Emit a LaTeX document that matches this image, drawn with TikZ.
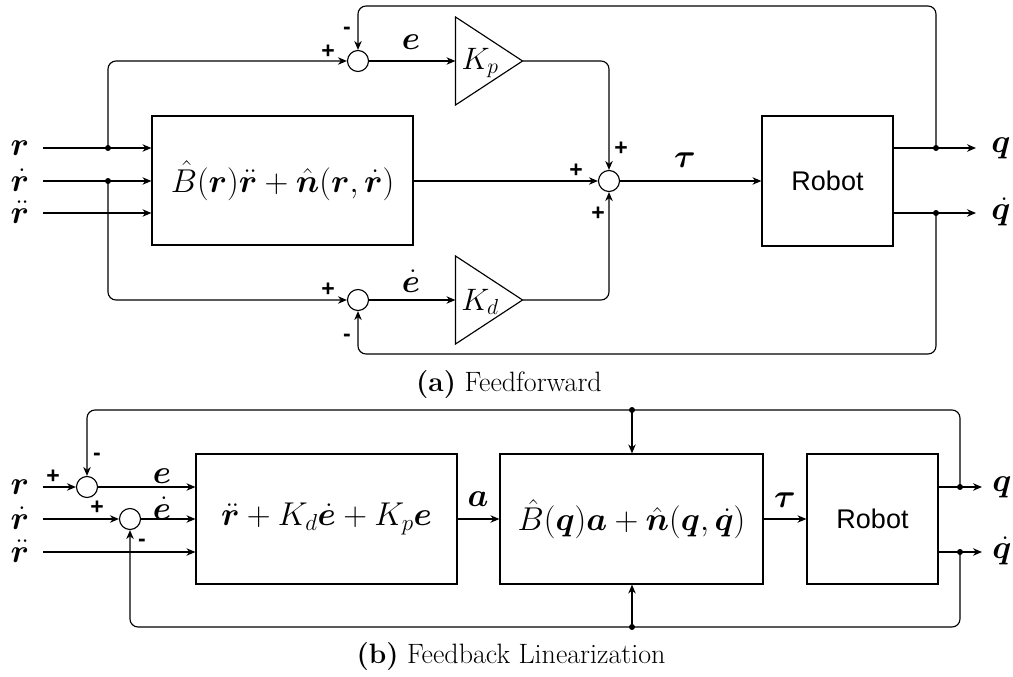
\documentclass[tikz,border=0pt]{standalone}
\usepackage{fix-cm}
\usepackage{amsmath}
\usepackage{bm}
\usepackage{fontspec}
\newfontfamily\sansf{Liberation Sans}
\usetikzlibrary{arrows.meta}
\begin{document}
\begin{tikzpicture}[x=1pt,y=-1pt,
  line width=1.15pt,
  arr/.style={-{Stealth[length=9pt,width=7.5pt]}},
  blk/.style={draw,inner sep=0pt},
  bigmath/.style={font=\fontsize{33}{35}\selectfont},
  robotxt/.style={font=\sansf\fontsize{27}{29}\selectfont},
  sumc/.style={draw,circle,minimum size=21pt,inner sep=0pt},
  tribox/.style={inner sep=0pt,minimum width=66pt,minimum height=87pt},
  dot/.style={circle,fill,inner sep=0pt,minimum size=6pt},
  sgn/.style={font=\sansf\bfseries\fontsize{23}{23}\selectfont},
  lbl/.style={font=\fontsize{33}{35}\selectfont},
  klbl/.style={font=\fontsize{31}{33}\selectfont},
  captxt/.style={font=\fontsize{28}{30}\selectfont},
  rc/.style={rounded corners=8pt}]
\useasboundingbox (0,0) rectangle (1013,677);

% ================= (a) Feedforward =================
\node[blk,bigmath,minimum width=261pt,minimum height=129pt] (ff) at (282.5,180.5)
  {$\hat{B}(\bm r)\ddot{\bm r}+\hat{\bm n}(\bm r,\dot{\bm r})$};
\node[blk,robotxt,minimum width=131pt,minimum height=130pt] (roba) at (827.5,181) {Robot};
\node[sumc] (s1) at (358,61) {};
\node[sumc] (s2) at (358,300) {};
\node[sumc] (s3) at (609,181) {};
\node[tribox] (kp) at (489,61) {};
\node[tribox] (kd) at (489,300) {};
\draw (kp.north west) -- (kp.east) -- (kp.south west) -- cycle;
\draw (kd.north west) -- (kd.east) -- (kd.south west) -- cycle;
\node[klbl] (kpl) at (480,63) {$K_p$};
\node[klbl] (kdl) at (480,302) {$K_d$};

\coordinate (ia1) at (43,148);
\coordinate (ia2) at (43,181);
\coordinate (ia3) at (43,213);
\node[lbl] (lra1) at (20,148) {$\bm r$};
\node[lbl] (lra2) at (20,180) {$\dot{\bm r}$};
\node[lbl] (lra3) at (20,212) {$\ddot{\bm r}$};
\draw[arr] (ia1) -- (ia1 -| ff.west);
\draw[arr] (ia2) -- (ia2 -| ff.west);
\draw[arr] (ia3) -- (ia3 -| ff.west);
\node[dot] (da1) at (108,148) {};
\node[dot] (da2) at (108,181) {};
\draw[arr,rc] (da1.center) |- (s1.west);
\draw[arr,rc] (da2.center) |- (s2.west);
\draw[arr] (s1.east) -- (kp.west);
\draw[arr] (s2.east) -- (kd.west);
\draw[arr,rc] (kp.east) -| (s3.north);
\draw[arr,rc] (kd.east) -| (s3.south);
\draw[arr] (ff.east |- s3.west) -- (s3.west);
\draw[arr] (s3.east) -- (roba.west);

\coordinate (qa) at (976,148);
\coordinate (qda) at (976,213);
\draw[arr] (qa -| roba.east) -- (qa);
\draw[arr] (qda -| roba.east) -- (qda);
\node[dot] (dqa) at (936,148) {};
\node[dot] (dqda) at (936,213) {};
\coordinate (topa) at (936,6);
\coordinate (bota) at (936,354);
\draw[arr,rc] (dqa.center) -- (topa) -| (s1.north);
\draw[arr,rc] (dqda.center) -- (bota) -| (s2.south);
\node[lbl] (lqa) at (1001,148) {$\bm q$};
\node[lbl] (lqda) at (1001,212) {$\dot{\bm q}$};

\node[lbl] (lea) at (411,42) {$\bm e$};
\node[lbl] (leda) at (411,281) {$\dot{\bm e}$};
\node[lbl] (ltaua) at (685,160) {$\bm\tau$};

\node[sgn] (pa1) at (328,52) {+};
\node[sgn] (ma1) at (347,31) {-};
\node[sgn] (pa2) at (621,149) {+};
\node[sgn] (pa3) at (576,171) {+};
\node[sgn] (pa4) at (598,214) {+};
\node[sgn] (pa5) at (328,290) {+};
\node[sgn] (ma2) at (347,338) {-};

\node[captxt] (capa) at (509,385) {\textbf{(a)} Feedforward};

% ================= (b) Feedback Linearization =================
\node[sumc] (b1) at (87,487) {};
\node[sumc] (b2) at (130,519) {};
\node[blk,bigmath,minimum width=261pt,minimum height=130pt] (fl) at (326.5,519)
  {$\ddot{\bm r}+K_d\dot{\bm e}+K_p\bm e$};
\node[blk,bigmath,minimum width=263pt,minimum height=130pt] (dyn) at (631.5,519)
  {$\hat{B}(\bm q)\bm a+\hat{\bm n}(\bm q,\dot{\bm q})$};
\node[blk,robotxt,minimum width=131pt,minimum height=130pt] (robb) at (872.5,519) {Robot};

\coordinate (ib1) at (43,487);
\coordinate (ib2) at (43,519);
\coordinate (ib3) at (43,552);
\node[lbl] (lrb1) at (20,487) {$\bm r$};
\node[lbl] (lrb2) at (20,518) {$\dot{\bm r}$};
\node[lbl] (lrb3) at (20,551) {$\ddot{\bm r}$};
\draw[arr] (ib1) -- (b1.west);
\draw[arr] (ib2) -- (b2.west);
\draw[arr] (ib3) -- (ib3 -| fl.west);
\draw[arr] (b1.east) -- (b1.east -| fl.west);
\draw[arr] (b2.east) -- (b2.east -| fl.west);
\draw[arr] (fl.east) -- (dyn.west);
\draw[arr] (dyn.east) -- (robb.west);

\coordinate (qb) at (982,487);
\coordinate (qdb) at (982,552);
\draw[arr] (qb -| robb.east) -- (qb);
\draw[arr] (qdb -| robb.east) -- (qdb);
\node[dot] (dqb) at (960,487) {};
\node[dot] (dqdb) at (960,552) {};
\coordinate (topb) at (960,410);
\coordinate (botb) at (960,627);
\draw[arr,rc] (dqb.center) -- (topb) -| (b1.north);
\draw[arr,rc] (dqdb.center) -- (botb) -| (b2.south);
\node[dot] (tdot) at (632,410) {};
\node[dot] (bdot) at (632,627) {};
\draw[arr] (tdot.center) -- (tdot.center |- dyn.north);
\draw[arr] (bdot.center) -- (bdot.center |- dyn.south);
\node[lbl] (lqb) at (1002,487) {$\bm q$};
\node[lbl] (lqdb) at (1002,551) {$\dot{\bm q}$};

\node[lbl] (leb) at (162,476) {$\bm e$};
\node[lbl] (ledb) at (162,508) {$\dot{\bm e}$};
\node[lbl] (lab) at (478,499) {$\bm a$};
\node[lbl] (ltaub) at (785,500) {$\bm\tau$};

\node[sgn] (pb1) at (53,477) {+};
\node[sgn] (mb1) at (97,457) {-};
\node[sgn] (pb2) at (97,508) {+};
\node[sgn] (mb2) at (142,543) {-};

\node[captxt] (capb) at (511,657) {\textbf{(b)} Feedback Linearization};
\end{tikzpicture}
\end{document}
